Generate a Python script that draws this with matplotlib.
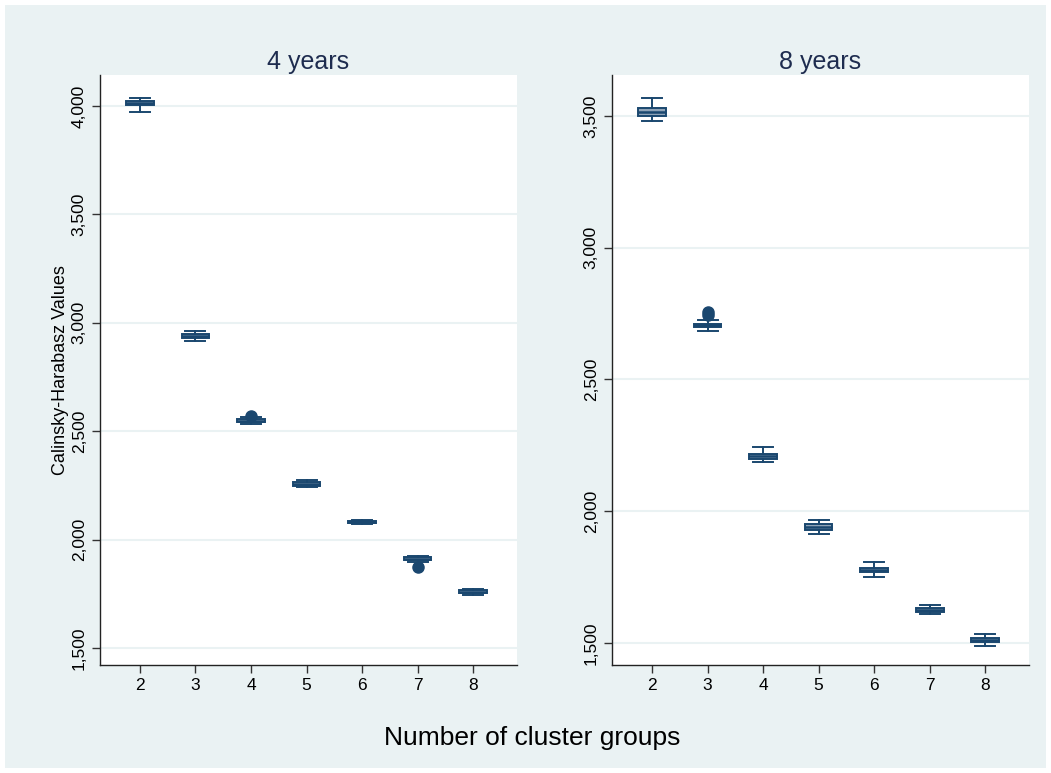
import matplotlib
matplotlib.use("Agg")
import matplotlib.pyplot as plt
import matplotlib.patches as mpatches
from matplotlib.ticker import FuncFormatter

plt.rcParams["font.family"] = ["Liberation Sans", "DejaVu Sans"]

# cluster counts on the x axis
clusters = [2, 3, 4, 5, 6, 7, 8]

# 4 years panel: box statistics
med_4 = [4014, 2938, 2548, 2256, 2080, 1912, 1760]
q1_4 = [4004, 2930, 2541, 2249, 2075, 1906, 1755]
q3_4 = [4024, 2946, 2555, 2263, 2085, 1918, 1765]
lo_4 = [3970, 2918, 2532, 2240, 2072, 1896, 1746]
hi_4 = [4038, 2960, 2566, 2274, 2088, 1926, 1772]
out_4 = [[], [], [2572], [], [], [1872], []]

# 8 years panel
med_8 = [3515, 2706, 2210, 1940, 1778, 1625, 1510]
q1_8 = [3502, 2700, 2200, 1930, 1770, 1619, 1503]
q3_8 = [3531, 2712, 2218, 1950, 1786, 1631, 1518]
lo_8 = [3482, 2685, 2185, 1912, 1752, 1610, 1487]
hi_8 = [3568, 2725, 2245, 1968, 1806, 1645, 1535]
out_8 = [[], [2745, 2757], [], [], [], [], []]

BG = "#eaf2f3"
NAVY = "#1a476f"
FILL = "#90a4b8"

fig = plt.figure(figsize=(10.51, 7.73), dpi=100)
fig.patch.set_facecolor("white")
fig.patches.append(mpatches.Rectangle((0.005, 0.007), 0.99, 0.986, transform=fig.transFigure,
                                      facecolor=BG, edgecolor="none", zorder=-10))

ax1 = fig.add_axes([0.0951, 0.1397, 0.3968, 0.7633])
ax2 = fig.add_axes([0.5823, 0.1397, 0.3968, 0.7633])


def draw_panel(ax, med, q1, q3, lo, hi, outs, title, ylim, yticks):
    stats = []
    for k, m, a, b, l, h, o in zip(clusters, med, q1, q3, lo, hi, outs):
        stats.append(dict(med=m, q1=a, q3=b, whislo=l, whishi=h, fliers=o, label=str(k)))
    ax.bxp(stats, positions=range(1, len(clusters) + 1), widths=0.5, capwidths=0.36,
           patch_artist=True,
           boxprops=dict(facecolor=FILL, edgecolor=NAVY, linewidth=1.4),
           medianprops=dict(color=NAVY, linewidth=1.8),
           whiskerprops=dict(color=NAVY, linewidth=1.4),
           capprops=dict(color=NAVY, linewidth=1.4),
           flierprops=dict(marker="o", markerfacecolor=NAVY, markeredgecolor=NAVY, markersize=8))
    ax.set_xlim(0.28, 7.79)
    ax.set_ylim(*ylim)
    ax.set_yticks(yticks)
    ax.yaxis.set_major_formatter(FuncFormatter(lambda v, p: f"{int(v):,}"))
    for lab in ax.get_yticklabels():
        lab.set_rotation(90)
        lab.set_va("center")
    ax.tick_params(axis="both", labelsize=12.5, length=6, width=1, color="#333333", direction="out")
    ax.grid(axis="y", color=BG, linewidth=1.5, zorder=0)
    ax.set_axisbelow(True)
    for s in ["top", "right"]:
        ax.spines[s].set_visible(False)
    for s in ["left", "bottom"]:
        ax.spines[s].set_color("#222222")
        ax.spines[s].set_linewidth(1)
    ax.set_title(title, fontsize=18, color="#1e2c4f", pad=4)


draw_panel(ax1, med_4, q1_4, q3_4, lo_4, hi_4, out_4, "4 years",
           (1421, 4143), [1500, 2000, 2500, 3000, 3500, 4000])
draw_panel(ax2, med_8, q1_8, q3_8, lo_8, hi_8, out_8, "8 years",
           (1416, 3656), [1500, 2000, 2500, 3000, 3500])

ax1.set_ylabel("Calinsky-Harabasz Values", fontsize=13, labelpad=2)
fig.text(0.506, 0.045, "Number of cluster groups", ha="center", va="center", fontsize=19)

fig.savefig("out.png", dpi=100)
